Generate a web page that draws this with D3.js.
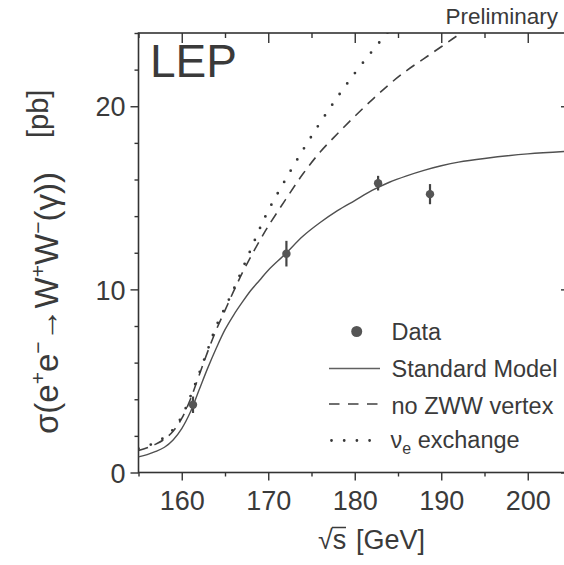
<!DOCTYPE html>
<html>
<head>
<meta charset="utf-8">
<script src="https://cdn.jsdelivr.net/npm/d3@7"></script>
<style>
body{margin:0;background:#fff;}
svg{display:block;}
text{font-family:"Liberation Sans",Arial,Helvetica,sans-serif;fill:#3a3a3a;}
</style>
</head>
<body>
<svg width="564" height="565"></svg>
<script>
// curve teoriche (sqrt(s) in GeV, sigma in pb)
var energia = [155,156,157,158,159,160,161,162,163,164,165,166,167,168,169,170,172,174,176,178,180,182,184,186,188,190,192,195,200,205];
var sm      = [0.85,0.98,1.15,1.38,1.78,2.4,3.3,4.5,5.7,6.8,7.8,8.6,9.3,9.95,10.5,11.05,11.95,12.9,13.65,14.3,14.85,15.4,15.85,16.2,16.5,16.75,16.95,17.15,17.4,17.55];
var noZWW   = [1.2,1.35,1.55,1.82,2.25,2.95,4.0,5.3,6.6,7.8,8.85,9.9,10.9,11.8,12.65,13.45,14.9,16.3,17.5,18.5,19.45,20.35,21.2,21.95,22.6,23.25,23.9,24.8,26.1,27.2];
var nuE     = [1.3,1.45,1.65,1.92,2.35,3.05,4.15,5.4,6.7,8.0,9.0,10.0,11.1,12.2,13.3,14.3,16.0,17.6,19.1,20.5,21.8,23.0,24.15,25.3,26.3,27.2,28.0,29.1,30.8,32.3];

// misure LEP
var datiS     = [161.3,172.1,182.7,188.7];
var datiSigma = [3.7,11.95,15.8,15.2];
var datiErr   = [0.45,0.7,0.4,0.55];

// assi
var xTicks = [160,170,180,190,200];
var xMinor = [155,165,175,185,195,205];
var yTicks = [0,10,20];
var yMinor = [2,4,6,8,12,14,16,18,22,24];

var legenda = ["Data","Standard Model","no ZWW vertex","exchange"];

var svg = d3.select("svg");
var sinistra = 138.5, destra = 571, alto = 33, basso = 472.5;

var x = d3.scaleLinear().domain([155,205]).range([sinistra,destra]);
var y = d3.scaleLinear().domain([0,24]).range([basso,alto]);

svg.append("clipPath").attr("id","area")
	.append("rect")
	.attr("x",sinistra).attr("y",alto)
	.attr("width",destra-sinistra).attr("height",basso-alto);

function stileAsse(g){
	g.select(".domain").remove();
	g.selectAll("line").attr("stroke","#333").attr("stroke-width",1.4);
	g.selectAll("text").style("font-size","27px").attr("fill","#3a3a3a");
}

// tacche minori
svg.append("g").attr("transform","translate(0,"+basso+")")
	.call(d3.axisBottom(x).tickValues(xMinor).tickSize(4).tickFormat(""))
	.call(stileAsse);
svg.append("g").attr("transform","translate(0,"+alto+")")
	.call(d3.axisTop(x).tickValues(xMinor).tickSize(-5).tickFormat(""))
	.call(stileAsse);
svg.append("g").attr("transform","translate("+sinistra+",0)")
	.call(d3.axisLeft(y).tickValues(yMinor).tickSize(4).tickFormat(""))
	.call(stileAsse);
svg.append("g").attr("transform","translate("+destra+",0)")
	.call(d3.axisRight(y).tickValues(yMinor).tickSize(-5).tickFormat(""))
	.call(stileAsse);

// tacche maggiori
var asseX = svg.append("g").attr("transform","translate(0,"+basso+")")
	.call(d3.axisBottom(x).tickValues(xTicks).tickSize(8))
	.call(stileAsse);
asseX.selectAll("text").attr("y",37.5).attr("dy",null);

svg.append("g").attr("transform","translate(0,"+alto+")")
	.call(d3.axisTop(x).tickValues(xTicks).tickSize(-10).tickFormat(""))
	.call(stileAsse);

var asseY = svg.append("g").attr("transform","translate("+sinistra+",0)")
	.call(d3.axisLeft(y).tickValues(yTicks).tickSize(8).tickPadding(5))
	.call(stileAsse);
asseY.selectAll("text").attr("dy","0.36em");

svg.append("g").attr("transform","translate("+destra+",0)")
	.call(d3.axisRight(y).tickValues(yTicks).tickSize(-10).tickFormat(""))
	.call(stileAsse);

// cornice
svg.append("rect")
	.attr("x",sinistra).attr("y",alto)
	.attr("width",destra-sinistra).attr("height",basso-alto)
	.attr("fill","none").attr("stroke","#333").attr("stroke-width",1.6);

// curve
var linea = d3.line()
	.x(function(d){ return x(d[0]); })
	.y(function(d){ return y(d[1]); })
	.curve(d3.curveCatmullRom.alpha(0.5));

var curve = svg.append("g").attr("clip-path","url(#area)");

curve.append("path")
	.attr("d", linea(d3.zip(energia,sm)))
	.attr("fill","none").attr("stroke","#505050").attr("stroke-width",1.4);

curve.append("path")
	.attr("d", linea(d3.zip(energia,noZWW)))
	.attr("fill","none").attr("stroke","#404040").attr("stroke-width",1.6)
	.attr("stroke-dasharray","10,7");

curve.append("path")
	.attr("d", linea(d3.zip(energia,nuE)))
	.attr("fill","none").attr("stroke","#383838").attr("stroke-width",2.8)
	.attr("stroke-linecap","round")
	.attr("stroke-dasharray","0,13");

// punti con errori
var punti = svg.append("g").selectAll("g")
	.data(d3.range(datiS.length))
	.enter().append("g");

punti.append("line")
	.attr("x1",function(i){ return x(datiS[i]); })
	.attr("x2",function(i){ return x(datiS[i]); })
	.attr("y1",function(i){ return y(datiSigma[i]-datiErr[i]); })
	.attr("y2",function(i){ return y(datiSigma[i]+datiErr[i]); })
	.attr("stroke","#444").attr("stroke-width",2.2);

punti.append("circle")
	.attr("cx",function(i){ return x(datiS[i]); })
	.attr("cy",function(i){ return y(datiSigma[i]); })
	.attr("r",4.2)
	.attr("fill","#555");

// legenda
var leg = svg.append("g");
var righe = [339.5,377,413.5,448];
var campione = [329,380];

leg.append("circle").attr("cx",356.7).attr("cy",331.5).attr("r",5.5).attr("fill","#555");
leg.append("line").attr("x1",campione[0]).attr("x2",campione[1]).attr("y1",368.5).attr("y2",368.5)
	.attr("stroke","#606060").attr("stroke-width",1.3);
leg.append("line").attr("x1",campione[0]).attr("x2",campione[1]).attr("y1",404).attr("y2",404)
	.attr("stroke","#404040").attr("stroke-width",1.6).attr("stroke-dasharray","10.5,8.5");
leg.append("line").attr("x1",331.5).attr("x2",372).attr("y1",440.5).attr("y2",440.5)
	.attr("stroke","#383838").attr("stroke-width",2.8).attr("stroke-linecap","round")
	.attr("stroke-dasharray","0,12.7");

leg.selectAll("text.voce")
	.data([0,1,2])
	.enter().append("text")
	.attr("class","voce")
	.attr("x",391.5)
	.attr("y",function(i){ return righe[i]; })
	.style("font-size","23.5px")
	.text(function(i){ return legenda[i]; });

var nu = leg.append("text").attr("x",390.5).attr("y",righe[3]).style("font-size","23.5px");
nu.append("tspan").text("ν");
nu.append("tspan").attr("dy",6).style("font-size","16px").text("e");
nu.append("tspan").attr("dy",-6).text(" " + legenda[3]);

// scritte
svg.append("text").attr("x",150).attr("y",77).style("font-size","46px").attr("fill","#444").text("LEP");
svg.append("text").attr("x",558).attr("y",24).attr("text-anchor","end").style("font-size","22.5px").text("Preliminary");

// titolo asse x
svg.append("text").attr("x",318).attr("y",549).style("font-size","27px").text("√s");
svg.append("line").attr("x1",332).attr("x2",346).attr("y1",527.5).attr("y2",527.5)
	.attr("stroke","#3a3a3a").attr("stroke-width",1.5);
svg.append("text").attr("x",356).attr("y",549).style("font-size","27px").text("[GeV]");

// titolo asse y
var titoloY = svg.append("text")
	.attr("transform","translate(58,434) rotate(-90)")
	.style("font-size","33px");
var pezzi = [["σ(e",0],["+",1],["e",0],["−",1],["→W",0],["+",1],["W",0],["−",1],["(γ))",0]];
pezzi.forEach(function(p, k){
	var prec = k>0 ? pezzi[k-1][1] : 0;
	var t = titoloY.append("tspan").text(p[0]);
	if (p[1]==1 && prec==0){ t.attr("dy",-13).style("font-size","21px"); }
	else if (p[1]==1){ t.style("font-size","21px"); }
	else if (prec==1){ t.attr("dy",13); }
});
svg.append("text")
	.attr("transform","translate(48,138) rotate(-90)")
	.style("font-size","29px")
	.text("[pb]");
</script>
</body>
</html>
